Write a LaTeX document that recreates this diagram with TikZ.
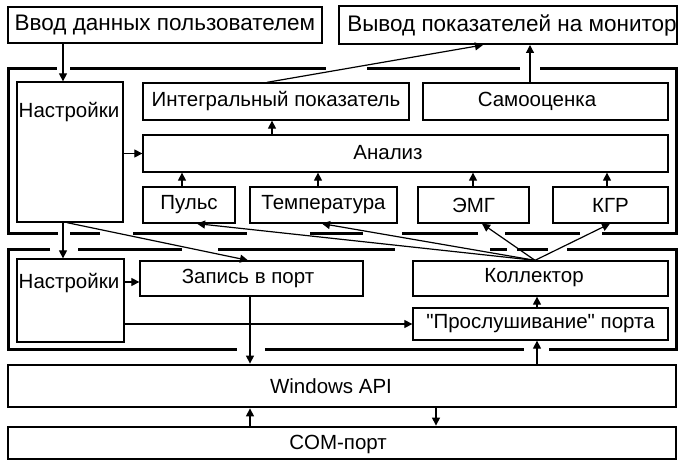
\documentclass[tikz,border=0pt]{standalone}
\usepackage{fontspec}
\setmainfont{Liberation Sans}
\newfontfamily\plainsans{Liberation Sans}
\usetikzlibrary{arrows.meta}
\newcommand\bx[7][]{\node[box,#1,minimum width={#5-#3},minimum height={#6-#4}] (#2) at ({(#3+#5)/2},{(#4+#6)/2}) {#7};}
\begin{document}
\begin{tikzpicture}[x=1pt,y=-1pt,
  box/.style={draw,line width=1.3pt,inner sep=0pt,font=\fontsize{20.5}{20.5}\selectfont},
  big/.style={line width=2pt,font=\fontsize{22.5}{22.5}\selectfont},
  heavy/.style={line width=2.8pt},
  txt/.style={inner sep=0pt,font=\fontsize{20.5}{20.5}\selectfont},
  frame/.style={line width=3pt},
  conn/.style={line width=1.2pt,-{Triangle[length=8pt,width=8pt]}}]
\useasboundingbox[fill=white] (0,0) rectangle (681,462);
% frames
\draw[frame] (56.5,69) -- (8,69) -- (8,234) -- (58,234);
\draw[frame] (70,69) -- (326,69) (367,69) -- (520,69);
\draw[frame] (540,69) -- (676,69) -- (676,234) -- (602,234);
\draw[frame] (70,234) -- (100,234) (133,234) -- (247,234) (310,234) -- (363,234) (402,234) -- (478,234) (505,234) -- (580,234);
\draw[frame] (50,250) -- (8,250) -- (8,350) -- (237,350);
\draw[frame] (78,250) -- (182,250) (218,250) -- (395,250) (490,250) -- (507,250) (517,250) -- (548,250);
\draw[frame] (567,250) -- (676,250) -- (676,350) -- (549,350);
\draw[frame] (265,350) -- (524,350);
% boxes
\bx[big]{vvod}{8}{7}{322}{43}{Ввод данных пользователем}
\bx[big]{vyvod}{339}{6}{677}{44}{}
\node[txt,big,draw=none] (tvyvod) at (512,25) {Вывод показателей на монитор};
\bx{nastr1}{17}{82}{123}{222}{}
\node[txt] (tnastr1) at (69,112) {Настройки};
\bx{integ}{143}{83}{409}{120}{Интегральный показатель}
\bx{samo}{423}{83}{668}{120}{}
\node[txt] (tsamo) at (537,101) {Самооценка};
\bx{analiz}{143}{135}{668}{172}{}
\node[txt] (tanaliz) at (388,153) {Анализ};
\bx{puls}{143}{187}{235}{223}{Пульс}
\bx{temp}{250}{187}{397}{223}{Температура}
\bx{emg}{418}{187}{529}{223}{ЭМГ}
\bx{kgr}{553}{187}{668}{223}{КГР}
\bx{nastr2}{17}{259}{124}{342}{}
\node[txt] (tnastr2) at (69,283) {Настройки};
\bx{zapis}{140}{261}{363}{296}{}
\node[txt] (tzapis) at (248,278) {Запись в порт};
\bx{koll}{413}{261}{668}{296}{}
\node[txt] (tkoll) at (534,278) {Коллектор};
\bx{prosl}{413}{308}{668}{340}{\plainsans"Прослушивание" порта}
\bx[heavy]{win}{8}{365}{676}{407}{}
\node[txt] (twin) at (331,386) {Windows API};
\bx[heavy]{com}{8}{427}{676}{459}{}
\node[txt] (tcom) at (338,444) {COM-порт};
% helper coordinates
\foreach \x in {63,67,182,197,248,250,267,272,318,322,436,473,482,483,530,535,537,607,610}
  \coordinate (x\x) at (\x,0);
\coordinate (y282) at (0,282);
% connectors
\draw[conn] (vvod.south -| x63) -- (nastr1.north -| x63);
\draw[conn] (nastr1.east |- analiz.west) -- (analiz.west);
\draw[conn] (analiz.north -| x272) -- (integ.south -| x272);
\draw[conn] (puls.north -| x182) -- (analiz.south -| x182);
\draw[conn] (temp.north -| x318) -- (analiz.south -| x318);
\draw[conn] (emg.north -| x473) -- (analiz.south -| x473);
\draw[conn] (kgr.north -| x607) -- (analiz.south -| x607);
\draw[conn] (samo.north -| x530) -- (vyvod.south -| x530);
\draw[conn] (integ.north -| x267) -- (vyvod.south -| x483);
\draw[conn] (nastr1.south -| x63) -- (nastr2.north -| x63);
\draw[conn] (nastr1.south -| x67) -- (zapis.north -| x248);
\draw[conn] (nastr2.east |- y282) -- (zapis.west |- y282);
\draw[conn] (nastr2.east |- prosl.west) -- (prosl.west);
\draw[conn] (prosl.north -| x537) -- (koll.south -| x537);
\draw[conn] (zapis.south -| x250) -- (win.north -| x250);
\draw[conn] (win.north -| x537) -- (prosl.south -| x537);
\draw[conn] (com.north -| x250) -- (win.south -| x250);
\draw[conn] (win.south -| x436) -- (com.north -| x436);
\draw[conn] (koll.north -| x535) -- (puls.south -| x197);
\draw[conn] (koll.north -| x535) -- (temp.south -| x322);
\draw[conn] (koll.north -| x535) -- (emg.south -| x482);
\draw[conn] (koll.north -| x535) -- (kgr.south -| x610);
\end{tikzpicture}
\end{document}
